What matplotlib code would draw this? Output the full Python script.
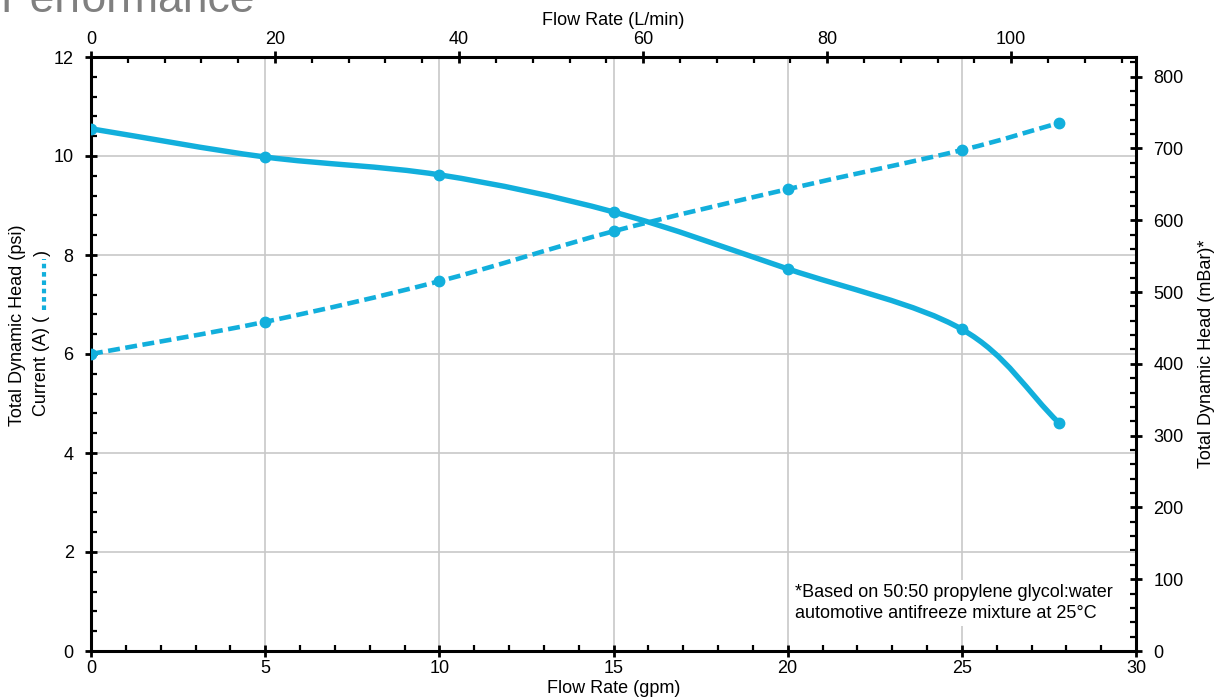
import numpy as np
import matplotlib.pyplot as plt
from matplotlib.path import Path
from matplotlib.patches import PathPatch
from matplotlib.lines import Line2D

plt.rcParams['font.family'] = ['Liberation Sans', 'DejaVu Sans']

# data
flow_gpm = [0, 5, 10, 15, 20, 25, 27.8]
head_psi = [10.55, 9.98, 9.62, 8.87, 7.72, 6.5, 4.6]
current_a = [6.0, 6.65, 7.47, 8.48, 9.33, 10.12, 10.67]

bottom_ticks = [0, 5, 10, 15, 20, 25, 30]
top_ticks = [0, 20, 40, 60, 80, 100]
left_ticks = [0, 2, 4, 6, 8, 10, 12]
right_ticks = [0, 100, 200, 300, 400, 500, 600, 700, 800]

LPM_PER_GPM = 3.78541
MBAR_PER_PSI = 68.9476
blue = '#12afdc'
FS = 13


def smooth_path(x, y):
    # catmull-rom curve through the points, drawn as cubic bezier segments
    x = np.asarray(x, float)
    y = np.asarray(y, float)
    px = np.concatenate([[2 * x[0] - x[1]], x, [2 * x[-1] - x[-2]]])
    py = np.concatenate([[2 * y[0] - y[1]], y, [2 * y[-1] - y[-2]]])
    verts = [(x[0], y[0])]
    codes = [Path.MOVETO]
    for i in range(1, len(px) - 2):
        c1 = (px[i] + (px[i + 1] - px[i - 1]) / 6, py[i] + (py[i + 1] - py[i - 1]) / 6)
        c2 = (px[i + 1] - (px[i + 2] - px[i]) / 6, py[i + 1] - (py[i + 2] - py[i]) / 6)
        verts += [c1, c2, (px[i + 1], py[i + 1])]
        codes += [Path.CURVE4] * 3
    return Path(verts, codes)


fig = plt.figure(figsize=(12.2, 6.98), dpi=100)
ax = fig.add_axes([91 / 1220, 47 / 698, 1045 / 1220, 594 / 698])

ax.set_xlim(0, 30)
ax.set_ylim(0, 12)
ax.set_xticks(bottom_ticks)
ax.set_yticks(left_ticks)
ax.set_xticks(np.arange(0, 30.1, 1), minor=True)
ax.set_yticks(np.arange(0, 12.01, 0.4), minor=True)
ax.grid(True, which='major', color='#c8c8c8', lw=1.2, zorder=0)

ax.add_patch(PathPatch(smooth_path(flow_gpm, head_psi), fill=False, ec=blue, lw=3.9,
                       capstyle='round', zorder=3))
ax.plot(flow_gpm, head_psi, 'o', color=blue, ms=7.5, zorder=4)
ax.add_patch(PathPatch(smooth_path(flow_gpm, current_a), fill=False, ec=blue, lw=3.3,
                       linestyle=(0, (2.6, 1.2)), zorder=3))
ax.plot(flow_gpm, current_a, 'o', color=blue, ms=7.5, zorder=4)

for s in ax.spines.values():
    s.set_linewidth(2.2)
ax.tick_params(which='major', direction='inout', length=9, width=2, labelsize=FS, pad=2)
ax.tick_params(which='minor', direction='in', length=4, width=1.6)
ax.tick_params(axis='y', pad=8)

top = ax.secondary_xaxis('top', functions=(lambda v: v * LPM_PER_GPM, lambda v: v / LPM_PER_GPM))
top.set_xticks(top_ticks)
top.set_xticks(np.arange(0, 113, 4), minor=True)
top.tick_params(which='major', direction='inout', length=9, width=2, labelsize=FS, pad=2)
top.tick_params(which='minor', direction='in', length=4, width=1.6)
top.set_xlabel('Flow Rate (L/min)', fontsize=FS, labelpad=4)

right = ax.secondary_yaxis('right', functions=(lambda v: v * MBAR_PER_PSI, lambda v: v / MBAR_PER_PSI))
right.set_yticks(right_ticks)
right.set_yticks(np.arange(0, 821, 20), minor=True)
right.tick_params(which='major', direction='inout', length=9, width=2, labelsize=FS, pad=8)
right.tick_params(which='minor', direction='in', length=4, width=1.6)
right.set_ylabel('Total Dynamic Head (mBar)*', fontsize=FS, labelpad=10)

ax.set_xlabel('Flow Rate (gpm)', fontsize=FS, labelpad=2)

# left label in two lines, with the dashed-line key drawn in
fig.text(18 / 1220, 1 - 325 / 698, 'Total Dynamic Head (psi)', rotation=90,
         ha='center', va='center', fontsize=FS)
fig.text(42 / 1220, 1 - 316 / 698, 'Current (A) (', rotation=90,
         ha='center', va='top', fontsize=FS)
fig.text(42 / 1220, 1 - 256 / 698, ')', rotation=90,
         ha='center', va='bottom', fontsize=FS)
fig.add_artist(Line2D([44 / 1220, 44 / 1220], [1 - 310 / 698, 1 - 259 / 698],
                      color=blue, lw=3, linestyle=(0, (1.1, 0.9))))

ax.text(0.674, 0.081, '*Based on 50:50 propylene glycol:water\nautomotive antifreeze mixture at 25°C',
        transform=ax.transAxes, fontsize=FS, ha='left', va='center', linespacing=1.25,
        bbox=dict(facecolor='white', edgecolor='none', pad=3), zorder=2)

fig.text(0.0, 1 - 12 / 698, 'Performance', fontsize=32, color='#808080', ha='left',
         va='baseline', fontweight='light')

fig.savefig('out.png', dpi=100)
